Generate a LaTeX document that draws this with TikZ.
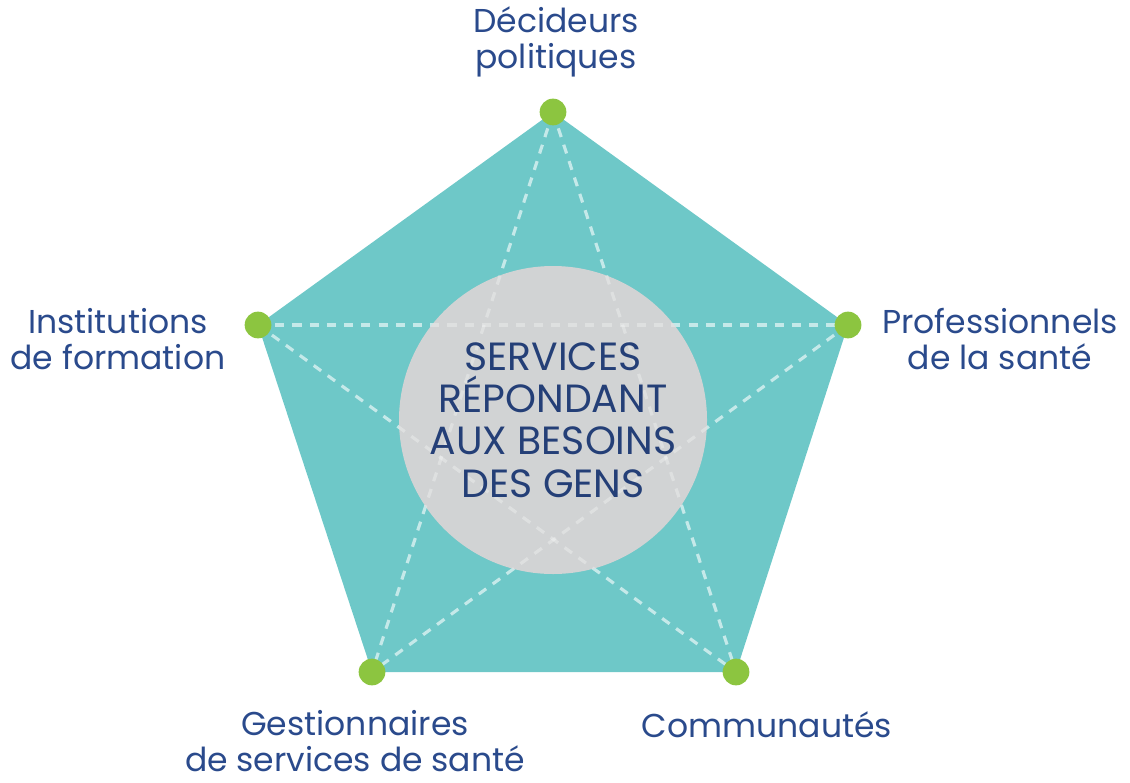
\documentclass[tikz,border=0pt]{standalone}
\usepackage{fontspec}
\setmainfont{Poppins}
\definecolor{teal50}{HTML}{6EC8C8}
\definecolor{disc}{HTML}{D1D3D4}
\definecolor{leaf}{HTML}{8CC540}
\definecolor{ink}{HTML}{2A4A8C}
\tikzset{
  who/.style={align=center,inner sep=0pt,text=ink,font=\fontsize{9.4}{10.4}\selectfont},
  dot/.style={circle,fill=leaf,inner sep=0pt,minimum size=7.6pt},
  dashline/.style={white,line width=0.9pt,dash pattern=on 2.6pt off 2.3pt},
}

\begin{document}
\begin{tikzpicture}
      \useasboundingbox (0,0) rectangle (11.3,7.82);
      \coordinate (dec) at (5.53,6.70);
      \coordinate (pro) at (8.48,4.57);
      \coordinate (com) at (7.36,1.10);
      \coordinate (ges) at (3.72,1.10);
      \coordinate (ins) at (2.58,4.57);

      \fill[teal50] (dec) -- (pro) -- (com) -- (ges) -- (ins) -- cycle;

      \begin{scope}[dashline,opacity=0.6]
        \draw (dec) -- (ges);
        \draw (dec) -- (com);
        \draw (ins) -- (pro);
        \draw (ins) -- (com);
        \draw (pro) -- (ges);
      \end{scope}

      \node[circle,fill=disc,minimum size=3.08cm,inner sep=0pt] (needs) at (5.53,3.62) {};

      % faint star seen through the disc
      \begin{scope}
        \clip (needs.center) circle (1.54);
        \begin{scope}[dashline,opacity=0.3]
          \draw (dec) -- (ges);
          \draw (dec) -- (com);
          \draw (ins) -- (pro);
          \draw (ins) -- (com);
          \draw (pro) -- (ges);
        \end{scope}
      \end{scope}

      \node[align=center,text=ink!85!black,font=\fontsize{11.2}{12}\selectfont]
        (needstext) at (needs.center) {SERVICES\\RÉPONDANT\\AUX BESOINS\\DES GENS};

      \foreach \v in {dec,pro,com,ges,ins}
        \node[dot] (\v dot) at (\v) {};

      \node[who] (declab) at (5.56,7.40) {Décideurs\\politiques};
      \node[who] (prolab) at (10.00,4.43) {Professionnels\\de la santé};
      \node[who] (inslab) at (1.18,4.43) {Institutions\\de formation};
      \node[who] (geslab) at (3.55,0.41) {Gestionnaires\\de services de santé};
      \node[who] (comlab) at (7.67,0.57) {Communautés};
    \end{tikzpicture}
\end{document}
